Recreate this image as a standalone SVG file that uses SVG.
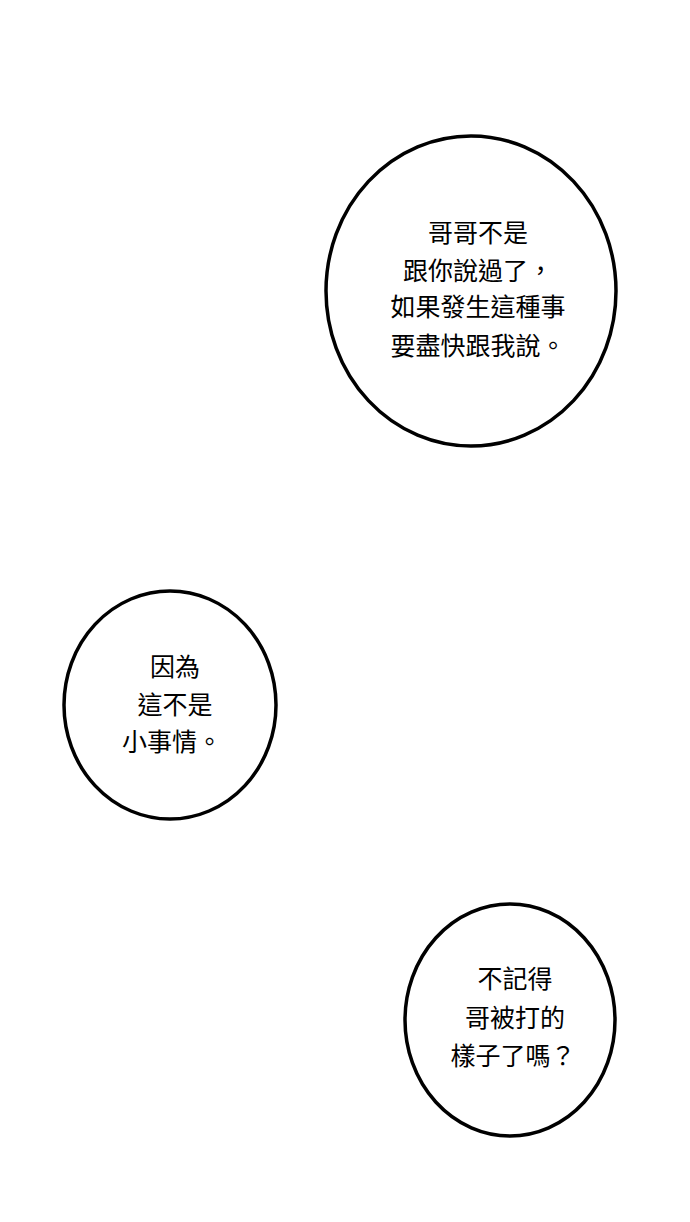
<svg xmlns="http://www.w3.org/2000/svg" width="690" height="1222" viewBox="0 0 690 1222">
<style>
.b{fill:#fff;stroke:#000;stroke-width:3.5}
text{font-family:"Noto Sans CJK TC","Noto Sans CJK SC",sans-serif;font-size:25px;text-anchor:middle;fill:#000}
</style>
<rect width="690" height="1222" fill="#fff"/>
<g id="bubble1">
<ellipse class="b" cx="471" cy="291" rx="145" ry="155"/>
<text x="478" y="242">哥哥不是</text>
<text x="478" y="280">跟你說過了，</text>
<text x="478" y="316">如果發生這種事</text>
<text x="478" y="355">要盡快跟我說。</text>
</g>
<g id="bubble2">
<ellipse class="b" cx="170" cy="705" rx="106" ry="114"/>
<text x="175" y="676">因為</text>
<text x="175" y="714">這不是</text>
<text x="172" y="751">小事情。</text>
</g>
<g id="bubble3">
<ellipse class="b" cx="510" cy="1020" rx="105" ry="116"/>
<text x="515" y="988">不記得</text>
<text x="515" y="1027">哥被打的</text>
<text x="513" y="1065">樣子了嗎？</text>
</g>
<g id="connectors"/>
</svg>
